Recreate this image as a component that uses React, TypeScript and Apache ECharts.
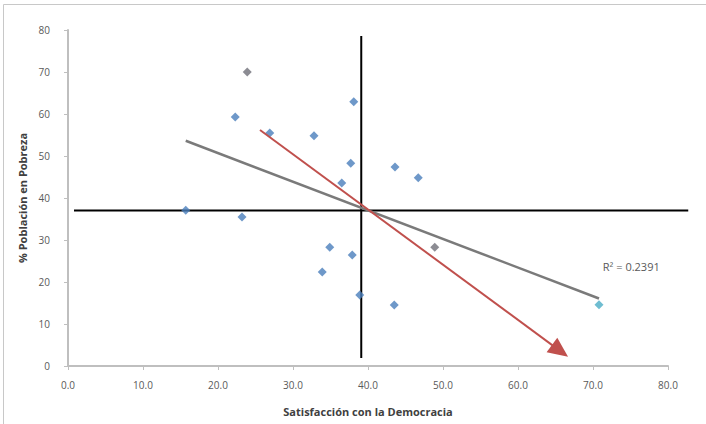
import React, { useEffect, useRef } from "react";
import * as echarts from "echarts";

// Satisfacción con la Democracia (x) vs % Población en Pobreza (y)
const puntosAzules: [number, number][] = [
  [22.3, 59.3],
  [26.9, 55.5],
  [32.8, 54.8],
  [38.1, 62.9],
  [37.7, 48.3],
  [43.6, 47.4],
  [46.7, 44.8],
  [36.5, 43.6],
  [15.7, 37.1],
  [23.2, 35.5],
  [34.9, 28.3],
  [37.9, 26.4],
  [33.9, 22.4],
  [38.9, 16.9],
  [43.5, 14.5],
];
const puntosGrises: [number, number][] = [
  [23.9, 70.0],
  [48.9, 28.3],
];
const puntoCeleste: [number, number][] = [[70.8, 14.6]];

const xTicks = [0, 10, 20, 30, 40, 50, 60, 70, 80];
const yTicks = [0, 10, 20, 30, 40, 50, 60, 70, 80];

// reference cross
const cruceX = 39.1;
const cruceY = 37.0;
const horizontalExtent = [0.8, 82.7];
const verticalExtent = [1.9, 78.6];

// red arrow
const flechaInicio: [number, number] = [25.6, 56.2];
const flechaFin: [number, number] = [65.6, 3.6];

const r2Texto = "R² = 0.2391";
const r2Pos: [number, number] = [75.1, 23.6];

function regresion(pts: [number, number][]) {
  const n = pts.length;
  const mx = pts.reduce((s, p) => s + p[0], 0) / n;
  const my = pts.reduce((s, p) => s + p[1], 0) / n;
  let sxy = 0,
    sxx = 0;
  pts.forEach(([x, y]) => {
    sxy += (x - mx) * (y - my);
    sxx += (x - mx) * (x - mx);
  });
  const b = sxy / sxx;
  const a = my - b * mx;
  const xs = pts.map((p) => p[0]);
  const x0 = Math.min(...xs);
  const x1 = Math.max(...xs);
  return [
    [x0, a + b * x0],
    [x1, a + b * x1],
  ];
}

export default function App() {
  const ref = useRef<HTMLDivElement>(null);
  useEffect(() => {
    document.body.style.margin = "0";
    const chart = echarts.init(ref.current!, undefined, { renderer: "svg" });
    const todos = [...puntosAzules, ...puntosGrises, ...puntoCeleste];
    const tendencia = regresion(todos);
    const font = "'Open Sans', 'Liberation Sans', sans-serif";
    const marker = { symbol: "diamond", symbolSize: 9 };
    chart.setOption({
      animation: false,
      backgroundColor: "#ffffff",
      grid: { left: 68, right: 38, top: 30, bottom: 58 },
      xAxis: {
        type: "value",
        min: xTicks[0],
        max: xTicks[xTicks.length - 1],
        interval: 10,
        name: "Satisfacción con la Democracia",
        nameLocation: "middle",
        nameGap: 40,
        nameTextStyle: { color: "#404040", fontSize: 11, fontWeight: "bold", fontFamily: font },
        axisLine: { lineStyle: { color: "#bfbfbf", width: 2 } },
        axisTick: { show: true, length: 4, lineStyle: { color: "#bfbfbf" } },
        axisLabel: {
          color: "#595959",
          fontSize: 10,
          fontFamily: font,
          margin: 14,
          formatter: (v: number) => v.toFixed(1),
        },
        splitLine: { show: false },
      },
      yAxis: {
        type: "value",
        min: yTicks[0],
        max: yTicks[yTicks.length - 1],
        interval: 10,
        name: "% Población en Pobreza",
        nameLocation: "middle",
        nameGap: 40,
        nameTextStyle: { color: "#404040", fontSize: 11, fontWeight: "bold", fontFamily: font },
        axisLine: { show: true, lineStyle: { color: "#bfbfbf", width: 2 } },
        axisTick: { show: true, length: 4, lineStyle: { color: "#bfbfbf" } },
        axisLabel: { color: "#595959", fontSize: 10, fontFamily: font, margin: 18 },
        splitLine: { show: false },
      },
      series: [
        {
          type: "line",
          data: tendencia,
          showSymbol: false,
          lineStyle: { color: "#7a7a7a", width: 2.5 },
          z: 4,
          markPoint: {
            symbol: "circle",
            symbolSize: 0,
            data: [{ coord: r2Pos, value: r2Texto }],
            label: {
              show: true,
              position: "inside",
              formatter: r2Texto,
              color: "#595959",
              fontSize: 11,
              fontFamily: font,
            },
          },
        },
        {
          type: "scatter",
          data: puntosAzules,
          ...marker,
          itemStyle: { color: "#4a7ebb" },
          z: 5,
        },
        {
          type: "scatter",
          data: puntosGrises,
          ...marker,
          itemStyle: { color: "#6f6f78" },
          z: 5,
        },
        {
          type: "scatter",
          data: puntoCeleste,
          ...marker,
          itemStyle: { color: "#4bacc6" },
          z: 5,
          markLine: {
            silent: true,
            symbol: ["none", "triangle"],
            symbolSize: [18, 20],
            lineStyle: { color: "#c0504d", width: 2, type: "solid" },
            label: { show: false },
            data: [[{ coord: flechaInicio }, { coord: flechaFin }]],
            z: 6,
          },
        },
      ],
    });
    const px = (p: number[]) =>
      chart.convertToPixel({ xAxisIndex: 0, yAxisIndex: 0 }, p) as number[];
    const h0 = px([horizontalExtent[0], cruceY]);
    const h1 = px([horizontalExtent[1], cruceY]);
    const v0 = px([cruceX, verticalExtent[0]]);
    const v1 = px([cruceX, verticalExtent[1]]);
    chart.setOption({
      graphic: [
        {
          id: "marco",
          type: "rect",
          shape: { x: 3.5, y: 4.5, width: 720, height: 440 },
          style: { fill: "none", stroke: "#c8c8c8", lineWidth: 1 },
          silent: true,
          z: 0,
        },
        {
          id: "horizontal",
          type: "line",
          shape: { x1: h0[0], y1: h0[1], x2: h1[0], y2: h1[1] },
          style: { stroke: "#000000", lineWidth: 2 },
          silent: true,
          z: 3,
        },
        {
          id: "vertical",
          type: "line",
          shape: { x1: v0[0], y1: v0[1], x2: v1[0], y2: v1[1] },
          style: { stroke: "#000000", lineWidth: 2 },
          silent: true,
          z: 3,
        },
      ],
    });
    return () => chart.dispose();
  }, []);
  return <div ref={ref} style={{ width: 706, height: 424 }} />;
}
